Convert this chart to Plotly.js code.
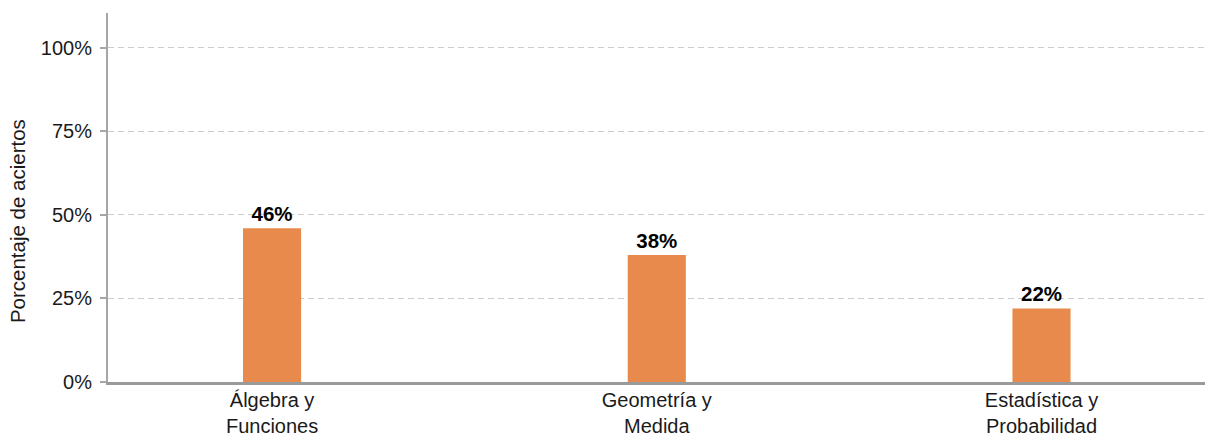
<!DOCTYPE html>
<html>
<head>
<meta charset="utf-8">
<script src="https://cdn.plot.ly/plotly-3.0.1.min.js"></script>
<style>html,body{margin:0;padding:0;background:#fff;}#chart{width:1208px;height:437px;}</style>
</head>
<body>
<div id="chart"></div>
<script>
var categories = ["Álgebra y<br>Funciones", "Geometría y<br>Medida", "Estadística y<br>Probabilidad"];
var values = [46, 38, 22];
var valueLabels = ["46%", "38%", "22%"];
var yTickVals = [0, 25, 50, 75, 100];
var yTickText = ["0%", "25%", "50%", "75%", "100%"];
var yTitle = "Porcentaje de aciertos";

var font = "Liberation Sans, Arial, sans-serif";

var trace = {
  type: "bar",
  x: categories,
  y: values,
  text: valueLabels,
  textposition: "outside",
  cliponaxis: false,
  textfont: {family: font, size: 20.5, color: "#000", weight: "bold"},
  marker: {color: "#E88A4C", line: {width: 0}},
  width: 0.151,
  hoverinfo: "none"
};

var layout = {
  width: 1208,
  height: 437,
  margin: {l: 108, r: 3, t: 13, b: 55},
  paper_bgcolor: "#fff",
  plot_bgcolor: "#fff",
  showlegend: false,
  font: {family: font, size: 20, color: "#1a1a1a"},
  xaxis: {
    type: "category",
    range: [-0.4265, 2.425],
    showgrid: false,
    zeroline: false,
    showline: true,
    linecolor: "#9a9a9a",
    linewidth: 3,
    ticks: "",
    ticklabelstandoff: -2,
    tickfont: {family: font, size: 20, color: "#1a1a1a"},
    fixedrange: true
  },
  yaxis: {
    range: [0, 110.4],
    tickvals: yTickVals,
    ticktext: yTickText,
    showgrid: true,
    gridcolor: "#cccccc",
    gridwidth: 1,
    griddash: "6px,4px",
    zeroline: false,
    showline: true,
    linecolor: "#a6a6a6",
    linewidth: 2,
    ticks: "outside",
    ticklen: 6,
    tickcolor: "#a6a6a6",
    tickwidth: 2,
    ticklabelstandoff: 4,
    tickfont: {family: font, size: 20, color: "#1a1a1a"},
    fixedrange: true
  },
  annotations: [{
    text: yTitle,
    xref: "paper", yref: "paper",
    x: 0, xshift: -91, xanchor: "center",
    y: 0.436, yanchor: "middle",
    textangle: -90,
    showarrow: false,
    font: {family: font, size: 20.5, color: "#1a1a1a"}
  }]
};

Plotly.newPlot("chart", [trace], layout, {displayModeBar: false, staticPlot: true});
</script>
</body>
</html>
